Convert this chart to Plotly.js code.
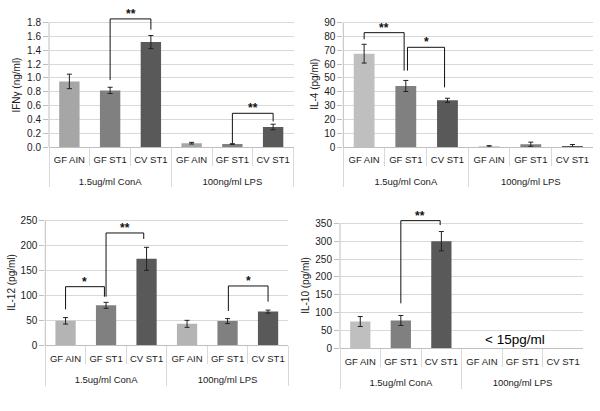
<!DOCTYPE html>
<html>
<head>
<meta charset="utf-8">
<script src="https://cdn.plot.ly/plotly-3.0.1.min.js"></script>
<style>html,body{margin:0;padding:0;background:#fff}#chart{width:600px;height:411px}</style>
</head>
<body>
<div id="chart"></div>
<script>
// ---------- data ----------
const subCats = ['GF AIN', 'GF ST1', 'CV ST1'];
const groups = ['1.5ug/ml ConA', '100ng/ml LPS'];

const ifnVals = [0.95, 0.82, 1.52, 0.055, 0.043, 0.29];
const ifnErr  = [0.105, 0.045, 0.095, 0.012, 0.005, 0.04];

const il4Vals = [67.6, 44.2, 33.8, 0.5, 2.0, 0.8];
const il4Err  = [6.8, 4.0, 1.5, 0.5, 1.5, 1.0];

const il12Vals = [49, 80, 173, 43, 48.5, 67.5];
const il12Err  = [6.5, 6, 23, 7, 5, 3];

const il10Vals = [75, 78, 300, null, null, null];
const il10Err  = [14, 14, 27, null, null, null];

const ifnTitle = 'IFNγ (ng/ml)';
const il4Title = 'IL-4 (pg/ml)';
const il12Title = 'IL-12 (pg/ml)';
const il10Title = 'IL-10 (pg/ml)';

// significance brackets: [from index, to index, left foot y, top y, right foot y, label]
const ifnBrackets = [[1, 2, 0.97, 1.855, 1.70, '**'], [4, 5, 0.053, 0.488, 0.37, '**']];
const il4Brackets = [[0, 0.96, 78, 82.8, 55.3, '**'], [1.04, 1.93, 55.3, 72.2, 43.2, '*']];
const il12Brackets = [[0, 0.96, 72, 117.3, 97.3, '*'], [1.0, 1.93, 97.3, 224.7, 212.7, '**'], [4.02, 5.0, 68.7, 118.7, 87.3, '*']];
const il10Brackets = [[1, 1.97, 126, 357.5, 345, '**']];

const il10Note = '< 15pg/ml';
const il10NotePos = [3.82, 26];

// ---------- styling ----------
const FONT = 'Liberation Sans, Arial, sans-serif';
const TXT = '#1a1a1a';
const GRID = '#d9d9d9';

// group labels get an empty first line so they sit lower, as in the reference
const groupLabels = groups.map(g => '<br>' + g);
const xCats = [
  subCats.map(() => groupLabels[0]).concat(subCats.map(() => groupLabels[1])),
  subCats.concat(subCats)
];

const panels = [
  {vals: ifnVals, err: ifnErr, title: ifnTitle, titleX: 16.7, br: ifnBrackets, colors: ['#a6a6a6', '#808080', '#595959'],
   xdom: [49 / 600, 293.5 / 600], ydom: [(411 - 147) / 411, (411 - 9.6) / 411], range: [0, 1.99], dtick: 0.2, max: 1.8, fmt: '.1f'},
  {vals: il4Vals, err: il4Err, title: il4Title, titleX: 315, br: il4Brackets, colors: ['#bfbfbf', '#808080', '#595959'],
   xdom: [343.3 / 600, 593.3 / 600], ydom: [(411 - 147) / 411, (411 - 10.3) / 411], range: [0, 99], dtick: 10, max: 90, fmt: 'd'},
  {vals: il12Vals, err: il12Err, title: il12Title, titleX: 12, br: il12Brackets, colors: ['#b4b4b4', '#808080', '#595959'],
   xdom: [45.3 / 600, 288.3 / 600], ydom: [(411 - 345.33) / 411, (411 - 211.33) / 411], range: [0, 268], dtick: 50, max: 250, fmt: 'd'},
  {vals: il10Vals, err: il10Err, title: il10Title, titleX: 306, br: il10Brackets, colors: ['#bfbfbf', '#808080', '#595959'],
   xdom: [340 / 600, 583.3 / 600], ydom: [(411 - 348.33) / 411, (411 - 208.33) / 411], range: [0, 392], dtick: 50, max: 350, fmt: 'd'}
];

const traces = [];
const layout = {
  width: 600, height: 411,
  margin: {l: 0, r: 0, t: 0, b: 0},
  paper_bgcolor: '#fff', plot_bgcolor: '#fff',
  showlegend: false,
  font: {family: FONT, size: 10, color: TXT},
  shapes: [], annotations: []
};

panels.forEach((p, i) => {
  const n = i === 0 ? '' : String(i + 1);
  const xa = 'x' + n, ya = 'y' + n;
  traces.push({
    type: 'bar', x: xCats, y: p.vals, xaxis: xa, yaxis: ya,
    width: 0.5,
    marker: {color: p.colors.concat(p.colors), line: {width: 0}},
    error_y: {type: 'data', array: p.err, visible: true, color: '#222', thickness: 1, width: 2.5},
    hoverinfo: 'skip'
  });
  layout['xaxis' + n] = {
    domain: p.xdom, anchor: ya, type: 'multicategory', tickangle: 0,
    showline: true, linecolor: '#bfbfbf', linewidth: 1,
    ticks: 'outside', tickson: 'boundaries', ticklen: 18, tickcolor: GRID, tickwidth: 1,
    ticklabelstandoff: 4,
    showdividers: true, dividercolor: GRID, dividerwidth: 1,
    showgrid: false, zeroline: false,
    tickfont: {family: FONT, size: 9.5, color: TXT}
  };
  layout['yaxis' + n] = {
    domain: p.ydom, anchor: xa, range: p.range, dtick: p.dtick, tick0: 0, tickformat: p.fmt,
    showgrid: true, gridcolor: GRID, gridwidth: 1, zeroline: false, showline: false,
    ticks: 'outside', ticklen: 5, tickcolor: '#bfbfbf',
    tickfont: {family: FONT, size: 10, color: TXT}
  };
  // y axis title (placed as rotated text to match the reference position)
  layout.annotations.push({xref: 'paper', yref: ya, x: p.titleX / 600, y: p.max / 2, text: p.title, textangle: -90,
    showarrow: false, xanchor: 'center', yanchor: 'middle', font: {family: FONT, size: 10, color: TXT}});
  // y axis line up to the top gridline
  layout.shapes.push({type: 'line', xref: xa + ' domain', yref: ya + ' domain', x0: 0, x1: 0, y0: 0, y1: p.max / p.range[1],
    line: {color: '#bfbfbf', width: 1}});
  p.br.forEach(b => {
    const [a, c, yl, yt, yr, lab] = b;
    const ln = {color: '#111', width: 1};
    layout.shapes.push({type: 'line', xref: xa, yref: ya, x0: a, x1: a, y0: yl, y1: yt, line: ln});
    layout.shapes.push({type: 'line', xref: xa, yref: ya, x0: a, x1: c, y0: yt, y1: yt, line: ln});
    layout.shapes.push({type: 'line', xref: xa, yref: ya, x0: c, x1: c, y0: yt, y1: yr, line: ln});
    layout.annotations.push({xref: xa, yref: ya, x: (a + c) / 2, y: yt, text: '<b>' + lab + '</b>',
      showarrow: false, yanchor: 'bottom', xanchor: 'center', yshift: -4, font: {family: FONT, size: 12, color: '#111'}});
  });
});

layout.annotations.push({xref: 'x4', yref: 'y4', x: il10NotePos[0], y: il10NotePos[1], text: il10Note,
  showarrow: false, xanchor: 'center', yanchor: 'middle', font: {family: FONT, size: 13.5, color: '#000'}});

Plotly.newPlot('chart', traces, layout, {displayModeBar: false, staticPlot: true});
</script>
</body>
</html>
